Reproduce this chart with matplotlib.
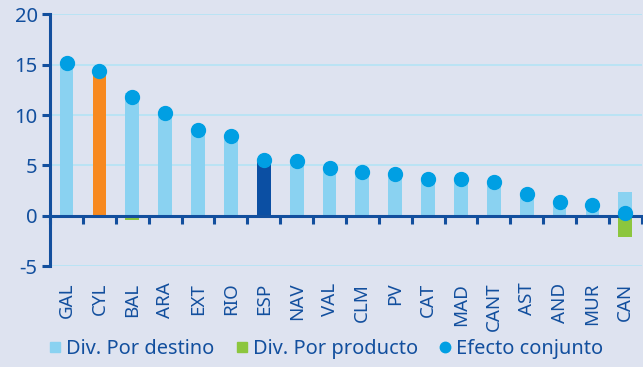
import matplotlib.pyplot as plt
import numpy as np

# regional contributions, in percentage points
regions = ['GAL', 'CYL', 'BAL', 'ARA', 'EXT', 'RIO', 'ESP', 'NAV', 'VAL',
           'CLM', 'PV', 'CAT', 'MAD', 'CANT', 'AST', 'AND', 'MUR', 'CAN']
destino = [15.2, 14.4, 12.2, 10.2, 8.5, 7.9, 5.5, 5.4, 4.7,
           4.3, 4.1, 3.6, 3.6, 3.3, 2.2, 1.4, 1.1, 2.4]
producto = [0, 0, -0.45, 0, 0, 0, 0, 0, 0,
            0, 0, 0, 0, 0, 0, 0, 0, -2.15]
efecto = [15.2, 14.4, 11.8, 10.2, 8.5, 7.9, 5.5, 5.4, 4.7,
          4.3, 4.1, 3.6, 3.6, 3.3, 2.2, 1.4, 1.1, 0.3]
yticks = [-5, 0, 5, 10, 15, 20]

bg = '#dee3f0'
navy = '#124f9e'
light = '#8ad2f1'
green = '#8cc63e'
dot = '#009fe3'
grid = '#b3e3f6'

plt.rcParams['font.family'] = ['Noto Sans', 'DejaVu Sans']

fig = plt.figure(figsize=(6.43, 3.67), dpi=100, facecolor=bg)
ax = fig.add_axes([0.078, 0.275, 0.920, 0.686], facecolor=bg)

x = np.arange(len(regions))
bar_colors = [light] * len(regions)
bar_colors[regions.index('CYL')] = '#f7891f'
bar_colors[regions.index('ESP')] = '#0b4fa3'

for y in yticks:
    if y != 0:
        ax.axhline(y, color=grid, lw=1.2, zorder=0)

ax.bar(x, destino, width=0.42, color=bar_colors, zorder=2)
ax.bar(x, producto, width=0.42, color=green, zorder=2)
ax.plot(x, efecto, 'o', color=dot, markersize=10, zorder=4)

ax.set_xlim(-0.5, len(regions) - 0.5)
ax.set_ylim(-5, 20)
ax.set_yticks(yticks)
ax.set_yticklabels([str(v) for v in yticks])

for s in ['top', 'right']:
    ax.spines[s].set_visible(False)
ax.spines['left'].set_color(navy)
ax.spines['left'].set_linewidth(2.2)
ax.spines['bottom'].set_position(('data', 0))
ax.spines['bottom'].set_color(navy)
ax.spines['bottom'].set_linewidth(2.2)
ax.spines['bottom'].set_zorder(3)

# boundary ticks hanging from the zero line
ax.set_xticks(np.arange(len(regions) + 1) - 0.5)
ax.tick_params(axis='x', length=6, width=2.2, color=navy, labelbottom=False)
ax.tick_params(axis='y', length=6, width=2.2, color=navy, labelcolor=navy,
               labelsize=14.5, pad=3)

# category names sit below the plot area
sec = ax.secondary_xaxis('bottom')
sec.spines['bottom'].set_visible(False)
sec.set_xticks(x)
sec.set_xticklabels(regions, rotation=90, fontsize=13.5, color=navy)
sec.tick_params(length=0, pad=12)

handles = [
    plt.Line2D([], [], marker='s', ls='none', color=light, markersize=7.5),
    plt.Line2D([], [], marker='s', ls='none', color=green, markersize=7.5),
    plt.Line2D([], [], marker='o', ls='none', color=dot, markersize=7.5),
]
fig.legend(handles, ['Div. Por destino', 'Div. Por producto', 'Efecto conjunto'],
           loc='center', bbox_to_anchor=(0.508, 0.048), ncol=3, frameon=False,
           fontsize=14.4, labelcolor=navy, handlelength=0.5, handletextpad=0.3,
           columnspacing=1.1, borderpad=0, borderaxespad=0)

fig.savefig('out.png', dpi=100, facecolor=bg)
